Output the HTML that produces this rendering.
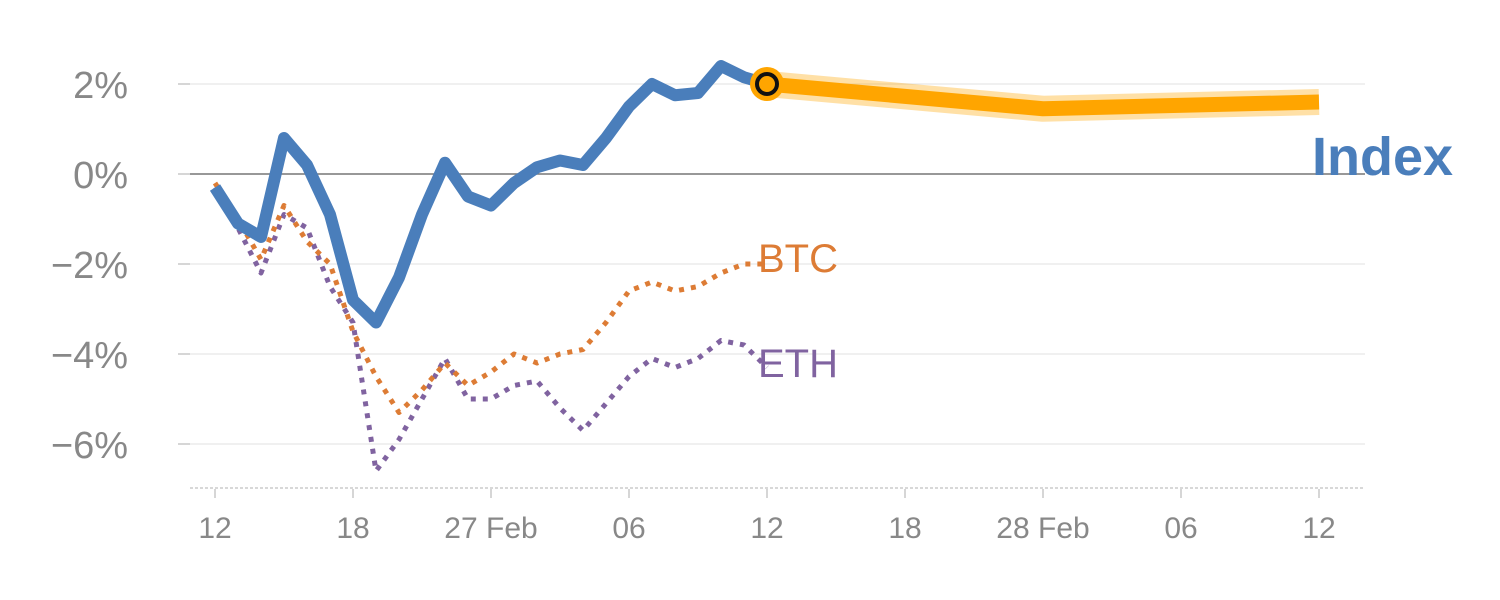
<!DOCTYPE html>
<html><head><meta charset="utf-8"><style>
html,body{margin:0;padding:0;background:#fff;width:1500px;height:600px;overflow:hidden}
svg{display:block;font-family:"Liberation Sans",Arial,sans-serif}
</style></head><body>
<svg id="chart" width="1500" height="600" viewBox="0 0 1500 600"></svg>
<script>
const indexVals=[-0.3,-1.1,-1.4,0.8,0.2,-0.9,-2.8,-3.3,-2.3,-0.9,0.25,-0.5,-0.7,-0.2,0.15,0.3,0.2,0.8,1.5,2.0,1.75,1.8,2.4,2.15,2.0];
const btcVals=[-0.2,-1.0,-1.9,-0.7,-1.5,-2.0,-3.5,-4.5,-5.3,-4.8,-4.2,-4.7,-4.4,-4.0,-4.2,-4.0,-3.9,-3.3,-2.6,-2.4,-2.6,-2.5,-2.2,-2.0,-2.0];
const ethVals=[-0.3,-1.2,-2.2,-0.9,-1.2,-2.5,-3.3,-6.6,-5.9,-5.0,-4.1,-5.0,-5.0,-4.7,-4.6,-5.2,-5.7,-5.1,-4.5,-4.1,-4.3,-4.1,-3.7,-3.8,-4.3];
const forecastIdx=[24,36,48];
const forecastVals=[2.0,1.45,1.6];
const yTicks=[2,0,-2,-4,-6];
const yTickLabels=["2%","0%","\u22122%","\u22124%","\u22126%"];
const xTickIdx=[0,6,12,18,24,30,36,42,48];
const xTickLabels=["12","18","27 Feb","06","12","18","28 Feb","06","12"];

const NS="http://www.w3.org/2000/svg";
const svg=document.getElementById('chart');
const x=i=>215+i*(1319-215)/48;
const y=v=>174-v*45;
function el(t,a,p){const e=document.createElementNS(NS,t);for(const k in a)e.setAttribute(k,a[k]);(p||svg).appendChild(e);return e;}

yTicks.forEach((v,i)=>{
  const g=el('line',{x1:190,x2:1365,y1:y(v),y2:y(v),stroke:v===0?'#777':'#e6e6e6','stroke-width':v===0?1.5:1.2});
  
  
  const tk=el('line',{x1:178,x2:190,y1:y(v),y2:y(v),stroke:'#bbb','stroke-width':1.2});
  
  
  const t=el('text',{x:128,y:y(v)+14,'text-anchor':'end','font-size':38,fill:'#888'});
  t.textContent=yTickLabels[i];
  
  
});
const ax=el('line',{x1:190,x2:1365,y1:488,y2:488,stroke:'#ccc','stroke-width':1.5,'stroke-dasharray':'3,2'});


xTickIdx.forEach((d,i)=>{
  const tk=el('line',{x1:x(d),x2:x(d),y1:489,y2:498,stroke:'#bbb','stroke-width':1.2});
  
  
  const t=el('text',{x:x(d),y:538,'text-anchor':'middle','font-size':30,fill:'#888'});
  t.textContent=xTickLabels[i];
  
  
});
const pts=a=>a.map((v,i)=>x(i)+','+y(v)).join(' ');
const eth=el('polyline',{points:pts(ethVals),fill:'none',stroke:'#8063a0','stroke-width':5,'stroke-dasharray':'5,7','stroke-linejoin':'round'});


const btc=el('polyline',{points:pts(btcVals),fill:'none',stroke:'#dd7c35','stroke-width':5,'stroke-dasharray':'5,7','stroke-linejoin':'round'});


const idx=el('polyline',{points:pts(indexVals),fill:'none',stroke:'#4a7ebb','stroke-width':12,'stroke-linejoin':'round'});


const fp=forecastIdx.map((d,i)=>x(d)+','+y(forecastVals[i])).join(' ');
const halo=el('polyline',{points:fp,fill:'none',stroke:'#ffa500','stroke-opacity':0.35,'stroke-width':26,'stroke-linejoin':'round'});


const fl=el('polyline',{points:fp,fill:'none',stroke:'#ffa500','stroke-width':15,'stroke-linejoin':'round'});


const c1=el('circle',{cx:x(24),cy:y(indexVals[24]),r:17,fill:'#ffa500'});


el('circle',{cx:x(24),cy:y(indexVals[24]),r:10,fill:'#ffa500',stroke:'#111','stroke-width':4});
const li=el('text',{x:1312,y:175,'font-size':54,'font-weight':'bold',fill:'#4a7ebb'});li.textContent='Index';


const lb=el('text',{x:758,y:272,'font-size':40,fill:'#dd7c35'});lb.textContent='BTC';


const le=el('text',{x:758,y:377,'font-size':40,fill:'#8063a0'});le.textContent='ETH';


</script>
</body></html>
